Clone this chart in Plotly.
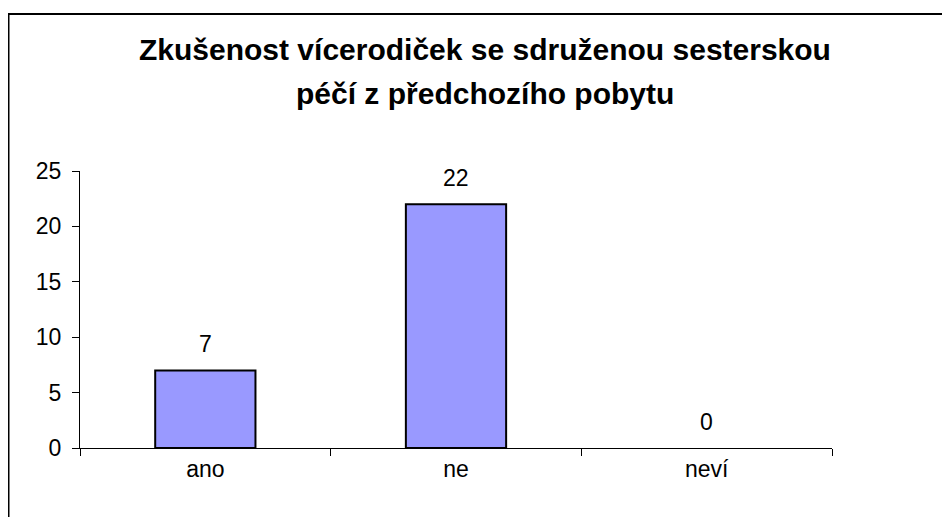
import plotly.graph_objects as go

categories = ["ano", "ne", "neví"]
values = [7, 22, 0]
y_ticks = [0, 5, 10, 15, 20, 25]
title_lines = ["Zkušenost vícerodiček se sdruženou sesterskou", "péčí z předchozího pobytu"]

FONT = "Arial, Liberation Sans, sans-serif"
TICK_SIZE = 23

fig = go.Figure()
fig.add_trace(go.Bar(
    x=categories, y=values, width=0.4,
    marker=dict(color="#9999FF",
                line=dict(color="black", width=[2 if v else 0 for v in values])),
    hoverinfo="skip",
))

for c, v in zip(categories, values):
    fig.add_annotation(x=c, y=v, text=str(v), showarrow=False, yanchor="bottom",
                       yshift=11, font=dict(family=FONT, size=TICK_SIZE, color="black"))

# page offset of 8px (body margin) compensated
W, H = 942, 509
L, R, T, B = 72, 118, 163, 69
pw, ph = W - L - R, H - T - B


def px_x(x):
    return (x - L) / pw


def px_y(y):
    return (H - B - y) / ph


fig.add_shape(type="rect", xref="paper", yref="paper", x0=px_x(0.5), y0=-2, x1=3, y1=px_y(6),
              line=dict(color="black", width=2), layer="above")

title_baselines = [52, 96]
for line, yb in zip(title_lines, title_baselines):
    fig.add_annotation(xref="paper", yref="paper", x=px_x(477), y=px_y(yb + 8),
                       xanchor="center", yanchor="bottom", showarrow=False,
                       text="<b>" + line + "</b>",
                       font=dict(family=FONT, size=30, color="black"))

fig.update_layout(
    width=W, height=H,
    margin=dict(l=L, r=R, t=T, b=B, pad=0),
    paper_bgcolor="white", plot_bgcolor="white",
    showlegend=False,
    font=dict(family=FONT, size=TICK_SIZE, color="black"),
    xaxis=dict(type="category", range=[-0.5, 2.5], showline=True, linecolor="black", linewidth=1,
               ticks="outside", tickson="boundaries", ticklen=7, tickcolor="black",
               showgrid=False, zeroline=False, tickfont=dict(size=TICK_SIZE)),
    yaxis=dict(range=[0, 25], tickvals=y_ticks, showline=True, linecolor="black", linewidth=1,
               ticks="outside", ticklen=7, tickcolor="black", showgrid=False, zeroline=False,
               ticklabelstandoff=6, tickfont=dict(size=TICK_SIZE)),
)

fig.write_html("out.html")
